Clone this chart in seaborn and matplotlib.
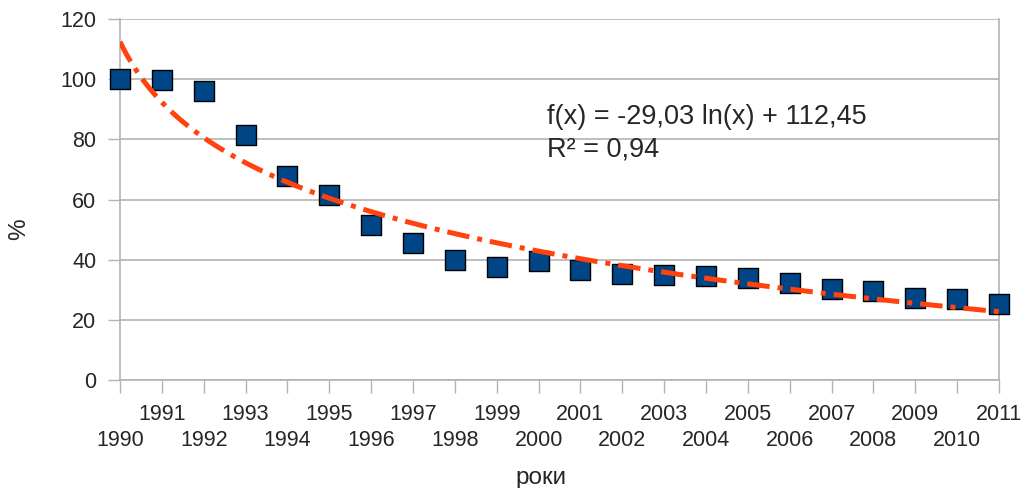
import matplotlib
matplotlib.use("Agg")
import matplotlib.pyplot as plt
import numpy as np
import pandas as pd
import seaborn as sns

years = list(range(1990, 2012))
values = [100, 99.7, 96, 81.4, 67.8, 61.5, 51.5, 45.5, 40, 37.5, 39.4, 36.6,
          35.2, 34.9, 34.5, 33.8, 32.2, 30.4, 29.6, 27.4, 27.0, 25.4]

# trend line coefficients shown on the chart: f(x) = a ln(x) + b
trend_a = -29.03
trend_b = 112.45
trend_label = "f(x) = -29,03 ln(x) + 112,45\nR² = 0,94"

df = pd.DataFrame({"year": years, "value": values})
t = np.linspace(1, len(years), 300)
trend = pd.DataFrame({"year": t + years[0] - 1, "value": trend_a * np.log(t) + trend_b})

sns.set_style("white")
plt.rcParams["font.family"] = ["Liberation Sans", "DejaVu Sans"]

fig = plt.figure(figsize=(10.27, 4.88), dpi=100)
ax = fig.add_axes([120 / 1027, 1 - 380 / 488, 879 / 1027, 361 / 488])

ax.set_ylim(0, 120)
ax.set_xlim(1990, 2011)
ax.set_yticks(range(0, 121, 20))
ax.grid(axis="y", color="#b3b3b3", linewidth=1.2)
ax.set_axisbelow(True)

sns.scatterplot(data=df, x="year", y="value", ax=ax, marker="s", s=210,
                color="#004586", edgecolor="black", linewidth=1.0,
                zorder=3, clip_on=False)
sns.lineplot(data=trend, x="year", y="value", ax=ax, color="#ff420e",
             linewidth=3.6, zorder=4, dashes=False)
ax.lines[-1].set_dashes((4.5, 1.6, 1.0, 1.6))

# odd years on the upper row (major), even years on the lower row (minor)
odd_years = [y for y in years if y % 2]
even_years = [y for y in years if y % 2 == 0]
ax.set_xticks(odd_years)
ax.set_xticklabels([str(y) for y in odd_years], fontsize=15.5)
ax.set_xticks(even_years, minor=True)
ax.set_xticklabels([str(y) for y in even_years], minor=True, fontsize=15.5)
ax.tick_params(axis="x", which="major", length=9, width=1, color="#b3b3b3", pad=8)
ax.tick_params(axis="x", which="minor", length=9, width=1, color="#b3b3b3", pad=27)
ax.tick_params(axis="y", length=9, width=1, color="#b3b3b3", pad=8, labelsize=15.5)
ax.tick_params(bottom=True, left=True, which="both", direction="out")

for side in ["left", "bottom", "right"]:
    ax.spines[side].set_color("#b3b3b3")
    ax.spines[side].set_linewidth(1.2)
ax.spines["top"].set_visible(False)

ax.set_xlabel("роки", fontsize=17.5)
ax.xaxis.set_label_coords((541 - 120) / 879, (380 - 484) / 361)
ax.xaxis.label.set_va("baseline")
ax.set_ylabel("%", fontsize=17.5)
ax.yaxis.set_label_coords((30 - 120) / 879, (380 - 229) / 361)
ax.yaxis.label.set_va("bottom")

fig.text(547 / 1027, 1 - 104 / 488, trend_label, fontsize=19.5, va="top", ha="left",
         linespacing=1.3)

fig.savefig("out.png", dpi=100)
